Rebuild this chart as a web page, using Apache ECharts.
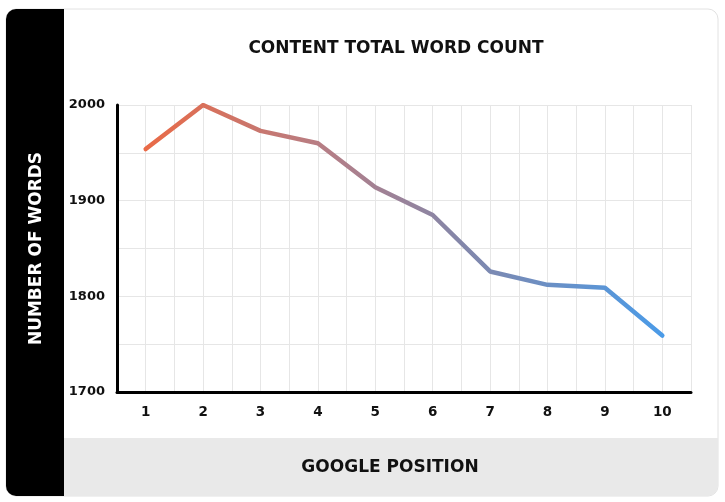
<!DOCTYPE html>
<html>
<head>
<meta charset="utf-8">
<script src="https://cdn.jsdelivr.net/npm/echarts@6/dist/echarts.min.js"></script>
<style>
html,body{margin:0;padding:0;background:#fff;}
#chart{width:725px;height:502px;}
</style>
</head>
<body>
<div id="chart"></div>
<script>
const positions = [1, 2, 3, 4, 5, 6, 7, 8, 9, 10];
const wordCounts = [1954, 2000, 1973, 1960, 1914, 1885, 1826, 1812, 1809, 1759];
const yTickLabels = [1700, 1800, 1900, 2000];
const xTickLabels = [1, 2, 3, 4, 5, 6, 7, 8, 9, 10];
const titleText = 'CONTENT TOTAL WORD COUNT';
const yAxisTitle = 'NUMBER OF WORDS';
const xAxisTitle = 'GOOGLE POSITION';

const chart = echarts.init(document.getElementById('chart'), null, {renderer: 'canvas'});
const FONT = 'DejaVu Sans';

chart.setOption({
  animation: false,
  backgroundColor: '#ffffff',
  title: {
    text: titleText,
    left: 391,
    top: 35,
    textAlign: 'center',
    textStyle: {fontFamily: FONT, fontWeight: 'bold', fontSize: 17, color: '#111'}
  },
  graphic: [
    {type: 'rect', z: -100, silent: true, shape: {x: 6, y: 9, width: 712, height: 487, r: 10},
      style: {fill: '#ffffff', stroke: '#e2e2e2', lineWidth: 1}},
    {type: 'rect', z: -99, silent: true, shape: {x: 64, y: 438, width: 654, height: 58, r: [0, 0, 10, 0]},
      style: {fill: '#e9e9e9'}},
    {type: 'rect', z: -98, silent: true, shape: {x: 6, y: 9, width: 58, height: 487, r: [10, 0, 0, 10]},
      style: {fill: '#000000'}}
  ],
  grid: {left: 117, right: 34, top: 105, bottom: 110, containLabel: false},
  xAxis: {
    type: 'value',
    min: 0.5,
    max: 10.5,
    interval: 0.5,
    name: xAxisTitle,
    nameLocation: 'middle',
    nameGap: 67,
    nameTextStyle: {fontFamily: FONT, fontWeight: 'bold', fontSize: 17, color: '#111', padding: [0, 28, 0, 0]},
    axisLine: {show: true, onZero: false, lineStyle: {color: '#000', width: 3}},
    axisTick: {show: false},
    splitLine: {show: true, lineStyle: {color: '#e6e6e6', width: 1}},
    axisLabel: {
      margin: 13,
      fontFamily: FONT, fontWeight: 'bold', fontSize: 13.5, color: '#111',
      formatter: v => (xTickLabels.indexOf(v) >= 0 ? String(v) : '')
    }
  },
  yAxis: {
    type: 'value',
    min: 1700,
    max: 2000,
    interval: 50,
    name: yAxisTitle,
    nameLocation: 'middle',
    nameGap: 72,
    nameTextStyle: {fontFamily: FONT, fontWeight: 'bold', fontSize: 17, color: '#fff'},
    axisLine: {show: true, lineStyle: {color: '#000', width: 3}},
    axisTick: {show: false},
    splitLine: {show: true, lineStyle: {color: '#e6e6e6', width: 1}},
    axisLabel: {
      margin: 12,
      fontFamily: FONT, fontWeight: 'bold', fontSize: 13, color: '#111',
      formatter: v => (yTickLabels.indexOf(v) >= 0 ? String(v) : '')
    }
  },
  series: [{
    type: 'line',
    data: positions.map((p, i) => [p, wordCounts[i]]),
    showSymbol: false,
    symbol: 'none',
    z: 5,
    lineStyle: {
      width: 4.5,
      cap: 'round',
      join: 'round',
      color: new echarts.graphic.LinearGradient(0, 0, 1, 0, [
        {offset: 0, color: '#EA6A46'},
        {offset: 0.35, color: '#B57E86'},
        {offset: 0.6, color: '#8586A8'},
        {offset: 1, color: '#4A9BE8'}
      ])
    }
  }]
});
</script>
</body>
</html>
